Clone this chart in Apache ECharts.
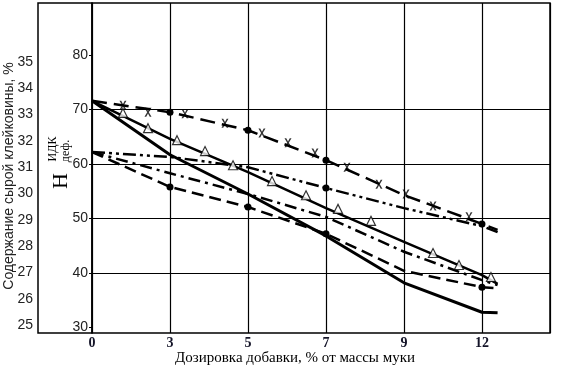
<!DOCTYPE html>
<html>
<head>
<meta charset="utf-8">
<script src="https://cdn.jsdelivr.net/npm/echarts@6/dist/echarts.min.js"></script>
<style>html,body{margin:0;padding:0;background:#fff}#c{width:570px;height:368px}</style>
</head>
<body>
<div id="c"></div>
<script>
// ---- data ----
const categories = ['0', '3', '5', '7', '9', '12'];
const xPos = [0, 1, 2, 3, 4, 5, 5.2]; // category index positions (last = line end beyond 12)
const seriesA = [71.6, 69.5, 66.2, 60.7, 54.3, 49.0, 47.9]; // dash, X marks
const seriesB = [71.6, 64.6, 58.5, 51.9, 45.7, 39.6, 38.0]; // solid, triangles
const seriesC = [71.6, 61.7, 54.5, 46.8, 38.2, 32.8, 32.7]; // solid
const seriesD = [62.2, 61.3, 59.4, 55.6, 51.9, 48.6, 47.5]; // dash-dot-dot
const seriesF = [62.2, 58.3, 54.5, 50.3, 43.9, 38.7, 37.8]; // dash-dot
const seriesE = [62.2, 55.8, 52.1, 47.2, 40.4, 37.4, 37.2]; // dashed, dots
const xMarkPos = [0.397, 0.718, 1.192, 1.705, 2.179, 2.513, 2.859, 3.269, 3.679, 4.026, 4.372, 4.833];
const xMarkVal = [70.8, 69.5, 69.2, 67.5, 65.7, 63.9, 62.0, 59.4, 56.3, 54.5, 52.3, 50.3];
const triPos = [0.397, 0.718, 1.09, 1.449, 1.808, 2.308, 2.744, 3.154, 3.577, 4.372, 4.705, 5.115];
const triVal = [69.0, 66.2, 64.0, 62.0, 59.4, 56.5, 53.9, 51.4, 49.2, 43.3, 41.1, 38.9];
const leftTicks = [25, 26, 27, 28, 29, 30, 31, 32, 33, 34, 35];
const innerTicks = [30, 40, 50, 60, 70, 80];
const yTitle = 'Содержание сырой клейковины, %';
const xTitle = 'Дозировка добавки, % от массы муки';

// ---- build ----
const pts = (xs, ys) => xs.map((x, i) => [x, ys[i]]);
const dotsA = [1, 2, 3, 5];
const dotsE = [1, 2, 3, 5];
const dotsD = [3];
const XMAX = 5.872;

function lineSeries(vals, type, width, dots) {
  return {
    type: 'line', xAxisIndex: 2, yAxisIndex: 2,
    data: pts(xPos, vals),
    symbol: (v, p) => (dots && dots.includes(p.dataIndex)) ? 'circle' : 'none',
    symbolSize: 7,
    showSymbol: true,
    itemStyle: { color: '#000' },
    lineStyle: { color: '#000', width: width, type: type },
    silent: true, animation: false, z: 3
  };
}

const chart = echarts.init(document.getElementById('c'), null, { renderer: 'canvas' });
chart.setOption({
  animation: false,
  backgroundColor: '#fff',
  grid: [
    { left: 92, right: 20, top: 3, bottom: 35, show: true, borderColor: '#000', borderWidth: 1.5, backgroundColor: 'transparent' },
    { left: 38, width: 54, top: 3, bottom: 35, show: true, borderColor: '#000', borderWidth: 1.5, backgroundColor: 'transparent' },
    { left: 92, right: 20, top: 0.5, bottom: 40.5, show: false }
  ],
  xAxis: [
    {
      gridIndex: 0, type: 'value', min: 0, max: XMAX, interval: 1,
      axisLine: { show: false }, axisTick: { show: false },
      splitLine: { show: true, lineStyle: { color: '#000', width: 1.2 } },
      axisLabel: {
        margin: 3, fontFamily: '"Liberation Serif", serif', fontWeight: 'bold', fontSize: 14, color: '#141428',
        formatter: v => (Math.abs(v - Math.round(v)) < 1e-6 && categories[Math.round(v)] !== undefined) ? categories[Math.round(v)] : ''
      }
    },
    { gridIndex: 1, type: 'value', min: 0, max: 1, show: false },
    { gridIndex: 2, type: 'value', min: 0, max: XMAX, interval: 1, show: false }
  ],
  yAxis: [
    { gridIndex: 0, type: 'value', min: 0, max: 1, show: false },
    {
      gridIndex: 1, type: 'value', min: 24.7, max: 37.24, position: 'left',
      axisLine: { show: false }, axisTick: { show: false }, splitLine: { show: false },
      axisLabel: {
        customValues: leftTicks, margin: 5,
        fontFamily: '"Liberation Sans", sans-serif', fontSize: 14, color: '#222'
      }
    },
    {
      gridIndex: 2, type: 'value', min: 30, max: 90, interval: 10, position: 'left',
      axisLine: { show: false },
      axisTick: { show: true, length: 3, customValues: innerTicks, lineStyle: { color: '#000' } },
      splitLine: { show: true, showMinLine: false, showMaxLine: false, lineStyle: { color: '#000', width: 1.2 } },
      axisLabel: {
        margin: 4, fontFamily: '"Liberation Sans", sans-serif', fontSize: 14, color: '#222',
        formatter: v => innerTicks.includes(v) ? String(v) : ''
      }
    }
  ],
  graphic: [
    { type: 'text', x: 9, y: 176, rotation: Math.PI / 2, style: { text: yTitle, fontFamily: '"Liberation Sans", sans-serif', fontSize: 14, fill: '#222', align: 'center', verticalAlign: 'middle' } },
    { type: 'text', x: 61, y: 181, rotation: Math.PI / 2, style: { text: 'Н', fontFamily: '"Liberation Serif", serif', fontSize: 22, fill: '#000', align: 'center', verticalAlign: 'middle' } },
    { type: 'text', x: 53, y: 149, rotation: Math.PI / 2, style: { text: 'ИДК', fontFamily: '"Liberation Serif", serif', fontSize: 12, fill: '#000', align: 'center', verticalAlign: 'middle' } },
    { type: 'text', x: 66, y: 151, rotation: Math.PI / 2, style: { text: 'деф.', fontFamily: '"Liberation Serif", serif', fontSize: 12, fill: '#000', align: 'center', verticalAlign: 'middle' } },
    { type: 'text', x: 295, y: 358, style: { text: xTitle, fontFamily: '"Liberation Serif", serif', fontSize: 15, fill: '#000', align: 'center', verticalAlign: 'middle' } }
  ],
  series: [
    lineSeries(seriesA, [15, 7], 2.5, dotsA),
    lineSeries(seriesB, 'solid', 2.5, null),
    lineSeries(seriesC, 'solid', 3, null),
    lineSeries(seriesD, [13, 4, 3, 4, 3, 4], 2.5, dotsD),
    lineSeries(seriesF, [12, 5, 3, 5], 2.5, null),
    lineSeries(seriesE, [12, 6], 2.5, dotsE),
    {
      type: 'scatter', xAxisIndex: 2, yAxisIndex: 2, data: pts(xMarkPos, xMarkVal),
      symbol: 'path://M0,0L2.5,0L5,4L7.5,0L10,0L6.2,5.5L10,11L7.5,11L5,7L2.5,11L0,11L3.8,5.5Z',
      symbolSize: [7, 9], itemStyle: { color: '#000' }, silent: true, z: 5
    },
    {
      type: 'scatter', xAxisIndex: 2, yAxisIndex: 2, data: pts(triPos, triVal),
      symbol: 'triangle', symbolSize: [9, 9], symbolOffset: [0, -2],
      itemStyle: { color: '#fff', borderColor: '#000', borderWidth: 1.2 }, silent: true, z: 6
    }
  ]
});
</script>
</body>
</html>
